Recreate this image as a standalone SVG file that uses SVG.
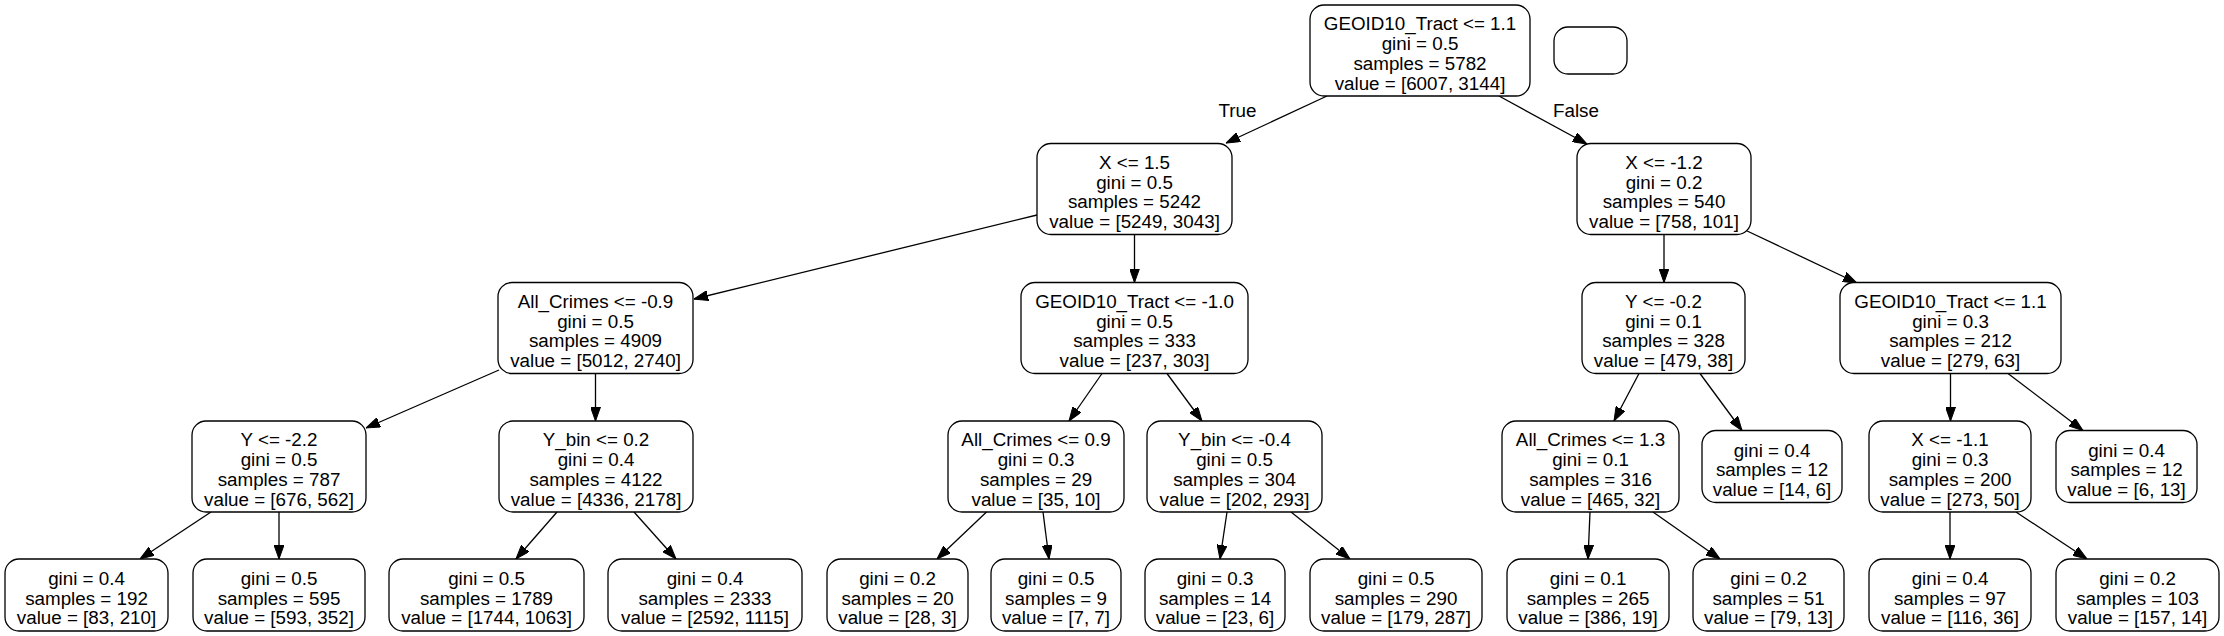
<svg xmlns="http://www.w3.org/2000/svg" width="2224" height="636" viewBox="0 0 2224 636">
<style>
.n rect{fill:#fff;stroke:#000;stroke-width:1.3}
.n text{font-family:"Liberation Sans",Arial,sans-serif;font-size:18.8px;fill:#000;text-anchor:middle}
.lbl{font-family:"Liberation Sans",Arial,sans-serif;font-size:18.8px;fill:#000;text-anchor:middle}
.e{stroke:#000;stroke-width:1.3;fill:none;marker-end:url(#ah)}
</style>
<defs>
<marker id="ah" markerUnits="userSpaceOnUse" viewBox="0 0 14 10" markerWidth="14" markerHeight="10" refX="14" refY="5" orient="auto">
<path d="M0,0 L14,5 L0,10 Z" fill="#000" stroke="#000" stroke-width="1"/>
</marker>
</defs>
<rect x="0" y="0" width="2224" height="636" fill="#fff"/>
<g id="edges">
<line class="e" x1="1327" y1="96" x2="1226" y2="143"/>
<line class="e" x1="1499" y1="96" x2="1587" y2="144"/>
<line class="e" x1="1037" y1="215" x2="694" y2="299"/>
<line class="e" x1="1134.5" y1="234.5" x2="1134.5" y2="282.5"/>
<line class="e" x1="1664" y1="234.5" x2="1664" y2="282.5"/>
<line class="e" x1="1745" y1="230" x2="1857" y2="283"/>
<line class="e" x1="499" y1="370" x2="366" y2="428"/>
<line class="e" x1="595.5" y1="373.5" x2="595.5" y2="421"/>
<line class="e" x1="211" y1="512" x2="140" y2="559"/>
<line class="e" x1="279" y1="512" x2="279" y2="559"/>
<line class="e" x1="557" y1="512" x2="516" y2="559"/>
<line class="e" x1="634" y1="512" x2="676" y2="559"/>
<line class="e" x1="1102" y1="373.5" x2="1069" y2="421"/>
<line class="e" x1="1167" y1="373.5" x2="1202" y2="421"/>
<line class="e" x1="986.5" y1="512" x2="937" y2="559"/>
<line class="e" x1="1043" y1="512" x2="1049" y2="559"/>
<line class="e" x1="1227" y1="512" x2="1220" y2="559"/>
<line class="e" x1="1291" y1="512" x2="1350" y2="559"/>
<line class="e" x1="1639" y1="373.5" x2="1614" y2="421"/>
<line class="e" x1="1700" y1="373.5" x2="1742" y2="430.5"/>
<line class="e" x1="1950.5" y1="373.5" x2="1950.5" y2="421"/>
<line class="e" x1="2008" y1="373.5" x2="2083" y2="430.5"/>
<line class="e" x1="1590" y1="512" x2="1588" y2="559"/>
<line class="e" x1="1653" y1="512" x2="1720" y2="559"/>
<line class="e" x1="1950" y1="512" x2="1950" y2="559"/>
<line class="e" x1="2016" y1="512" x2="2087" y2="559"/>
<text class="lbl" x="1237.5" y="117">True</text>
<text class="lbl" x="1576" y="117">False</text>
</g>
<g id="n0" class="n"><rect x="1310" y="5" width="220" height="91" rx="14"/>
<text x="1420" y="30.4">GEOID10_Tract &lt;= 1.1</text><text x="1420" y="50.1">gini = 0.5</text><text x="1420" y="69.8">samples = 5782</text><text x="1420" y="89.5">value = [6007, 3144]</text></g>
<g id="legend" class="n"><rect x="1554" y="27" width="73" height="47" rx="14"/></g>
<g id="n1" class="n"><rect x="1037" y="143.5" width="195" height="91" rx="14"/>
<text x="1134.5" y="168.9">X &lt;= 1.5</text><text x="1134.5" y="188.6">gini = 0.5</text><text x="1134.5" y="208.3">samples = 5242</text><text x="1134.5" y="228">value = [5249, 3043]</text></g>
<g id="n2" class="n"><rect x="1577" y="143.5" width="174" height="91" rx="14"/>
<text x="1664" y="168.9">X &lt;= -1.2</text><text x="1664" y="188.6">gini = 0.2</text><text x="1664" y="208.3">samples = 540</text><text x="1664" y="228">value = [758, 101]</text></g>
<g id="n3" class="n"><rect x="498" y="282.5" width="195" height="91" rx="14"/>
<text x="595.5" y="307.9">All_Crimes &lt;= -0.9</text><text x="595.5" y="327.6">gini = 0.5</text><text x="595.5" y="347.3">samples = 4909</text><text x="595.5" y="367">value = [5012, 2740]</text></g>
<g id="n4" class="n"><rect x="1021" y="282.5" width="227" height="91" rx="14"/>
<text x="1134.5" y="307.9">GEOID10_Tract &lt;= -1.0</text><text x="1134.5" y="327.6">gini = 0.5</text><text x="1134.5" y="347.3">samples = 333</text><text x="1134.5" y="367">value = [237, 303]</text></g>
<g id="n5" class="n"><rect x="1582" y="282.5" width="163" height="91" rx="14"/>
<text x="1663.5" y="307.9">Y &lt;= -0.2</text><text x="1663.5" y="327.6">gini = 0.1</text><text x="1663.5" y="347.3">samples = 328</text><text x="1663.5" y="367">value = [479, 38]</text></g>
<g id="n6" class="n"><rect x="1840" y="282.5" width="221" height="91" rx="14"/>
<text x="1950.5" y="307.9">GEOID10_Tract &lt;= 1.1</text><text x="1950.5" y="327.6">gini = 0.3</text><text x="1950.5" y="347.3">samples = 212</text><text x="1950.5" y="367">value = [279, 63]</text></g>
<g id="n7" class="n"><rect x="192" y="421" width="174" height="91" rx="14"/>
<text x="279" y="446.4">Y &lt;= -2.2</text><text x="279" y="466.1">gini = 0.5</text><text x="279" y="485.8">samples = 787</text><text x="279" y="505.5">value = [676, 562]</text></g>
<g id="n8" class="n"><rect x="499" y="421" width="194" height="91" rx="14"/>
<text x="596" y="446.4">Y_bin &lt;= 0.2</text><text x="596" y="466.1">gini = 0.4</text><text x="596" y="485.8">samples = 4122</text><text x="596" y="505.5">value = [4336, 2178]</text></g>
<g id="n9" class="n"><rect x="948" y="421" width="176" height="91" rx="14"/>
<text x="1036" y="446.4">All_Crimes &lt;= 0.9</text><text x="1036" y="466.1">gini = 0.3</text><text x="1036" y="485.8">samples = 29</text><text x="1036" y="505.5">value = [35, 10]</text></g>
<g id="n10" class="n"><rect x="1147" y="421" width="175" height="91" rx="14"/>
<text x="1234.5" y="446.4">Y_bin &lt;= -0.4</text><text x="1234.5" y="466.1">gini = 0.5</text><text x="1234.5" y="485.8">samples = 304</text><text x="1234.5" y="505.5">value = [202, 293]</text></g>
<g id="n11" class="n"><rect x="1502" y="421" width="177" height="91" rx="14"/>
<text x="1590.5" y="446.4">All_Crimes &lt;= 1.3</text><text x="1590.5" y="466.1">gini = 0.1</text><text x="1590.5" y="485.8">samples = 316</text><text x="1590.5" y="505.5">value = [465, 32]</text></g>
<g id="n12" class="n"><rect x="1702" y="430.5" width="140" height="72" rx="14"/>
<text x="1772" y="456.5">gini = 0.4</text><text x="1772" y="476.2">samples = 12</text><text x="1772" y="495.9">value = [14, 6]</text></g>
<g id="n13" class="n"><rect x="1869" y="421" width="162" height="91" rx="14"/>
<text x="1950" y="446.4">X &lt;= -1.1</text><text x="1950" y="466.1">gini = 0.3</text><text x="1950" y="485.8">samples = 200</text><text x="1950" y="505.5">value = [273, 50]</text></g>
<g id="n14" class="n"><rect x="2056" y="430.5" width="141" height="72" rx="14"/>
<text x="2126.5" y="456.5">gini = 0.4</text><text x="2126.5" y="476.2">samples = 12</text><text x="2126.5" y="495.9">value = [6, 13]</text></g>
<g id="n15" class="n"><rect x="5" y="559" width="163" height="72" rx="14"/>
<text x="86.5" y="585">gini = 0.4</text><text x="86.5" y="604.7">samples = 192</text><text x="86.5" y="624.4">value = [83, 210]</text></g>
<g id="n16" class="n"><rect x="193" y="559" width="172" height="72" rx="14"/>
<text x="279" y="585">gini = 0.5</text><text x="279" y="604.7">samples = 595</text><text x="279" y="624.4">value = [593, 352]</text></g>
<g id="n17" class="n"><rect x="389" y="559" width="195" height="72" rx="14"/>
<text x="486.5" y="585">gini = 0.5</text><text x="486.5" y="604.7">samples = 1789</text><text x="486.5" y="624.4">value = [1744, 1063]</text></g>
<g id="n18" class="n"><rect x="608" y="559" width="194" height="72" rx="14"/>
<text x="705" y="585">gini = 0.4</text><text x="705" y="604.7">samples = 2333</text><text x="705" y="624.4">value = [2592, 1115]</text></g>
<g id="n19" class="n"><rect x="827" y="559" width="141" height="72" rx="14"/>
<text x="897.5" y="585">gini = 0.2</text><text x="897.5" y="604.7">samples = 20</text><text x="897.5" y="624.4">value = [28, 3]</text></g>
<g id="n20" class="n"><rect x="991" y="559" width="130" height="72" rx="14"/>
<text x="1056" y="585">gini = 0.5</text><text x="1056" y="604.7">samples = 9</text><text x="1056" y="624.4">value = [7, 7]</text></g>
<g id="n21" class="n"><rect x="1145" y="559" width="140" height="72" rx="14"/>
<text x="1215" y="585">gini = 0.3</text><text x="1215" y="604.7">samples = 14</text><text x="1215" y="624.4">value = [23, 6]</text></g>
<g id="n22" class="n"><rect x="1310" y="559" width="172" height="72" rx="14"/>
<text x="1396" y="585">gini = 0.5</text><text x="1396" y="604.7">samples = 290</text><text x="1396" y="624.4">value = [179, 287]</text></g>
<g id="n23" class="n"><rect x="1507" y="559" width="162" height="72" rx="14"/>
<text x="1588" y="585">gini = 0.1</text><text x="1588" y="604.7">samples = 265</text><text x="1588" y="624.4">value = [386, 19]</text></g>
<g id="n24" class="n"><rect x="1693" y="559" width="151" height="72" rx="14"/>
<text x="1768.5" y="585">gini = 0.2</text><text x="1768.5" y="604.7">samples = 51</text><text x="1768.5" y="624.4">value = [79, 13]</text></g>
<g id="n25" class="n"><rect x="1869" y="559" width="162" height="72" rx="14"/>
<text x="1950" y="585">gini = 0.4</text><text x="1950" y="604.7">samples = 97</text><text x="1950" y="624.4">value = [116, 36]</text></g>
<g id="n26" class="n"><rect x="2056" y="559" width="163" height="72" rx="14"/>
<text x="2137.5" y="585">gini = 0.2</text><text x="2137.5" y="604.7">samples = 103</text><text x="2137.5" y="624.4">value = [157, 14]</text></g>
</svg>
